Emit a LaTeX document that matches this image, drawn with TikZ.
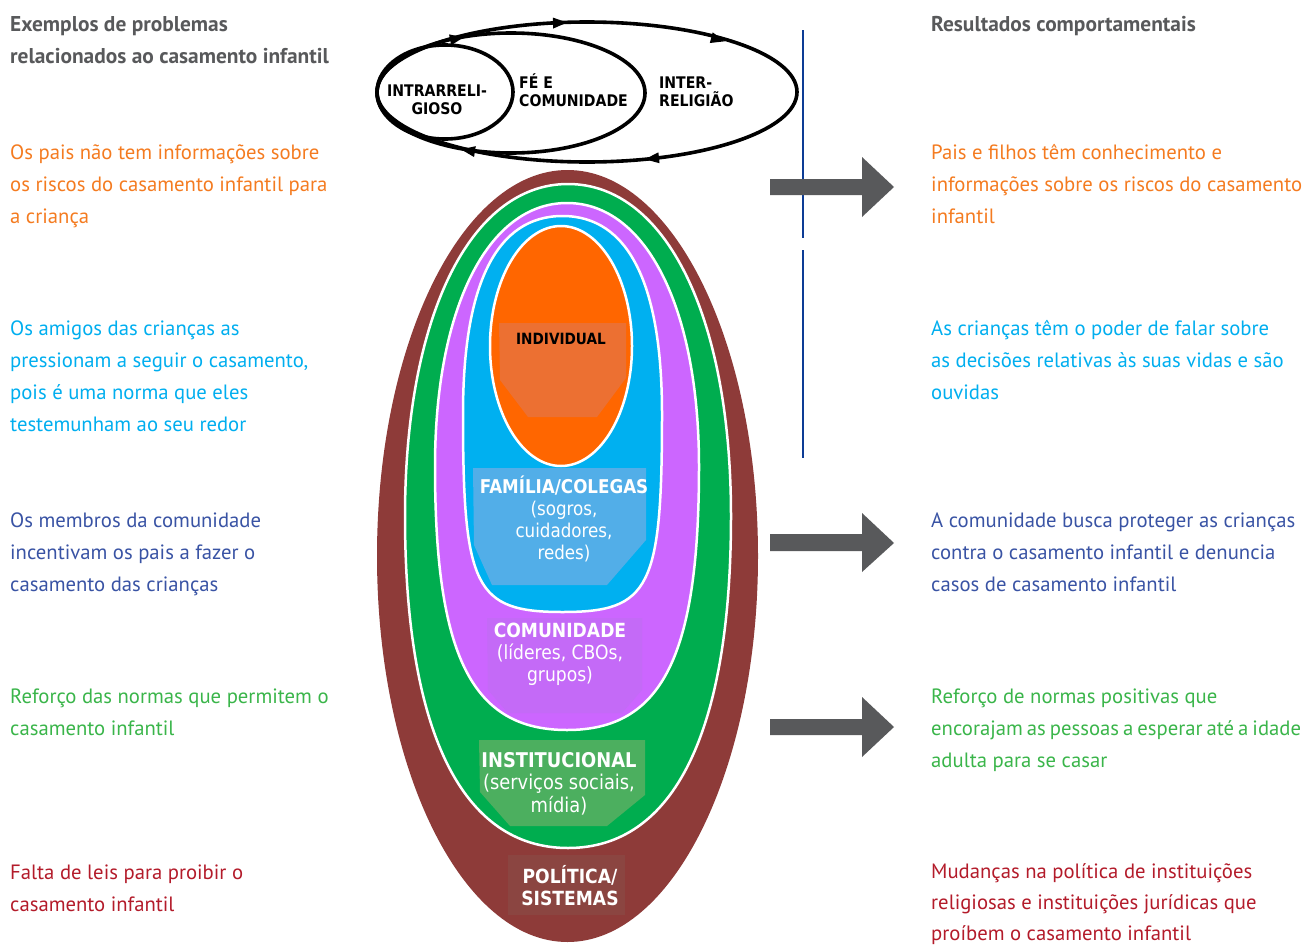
\documentclass[tikz,border=0pt]{standalone}
\usepackage{fontspec}
\setmainfont{PT Sans}
\newfontfamily\labfont[FakeStretch=0.88]{DejaVu Sans}
\usetikzlibrary{shapes.geometric}

\definecolor{polred}{HTML}{8E3B39}
\definecolor{insgreen}{HTML}{00AD4F}
\definecolor{compurple}{HTML}{CC66FF}
\definecolor{famblue}{HTML}{00B0F0}
\definecolor{indorange}{HTML}{FF6600}
\definecolor{indpatch}{HTML}{EC7032}
\definecolor{fampatch}{HTML}{52AEE8}
\definecolor{compatch}{HTML}{C46AF7}
\definecolor{inspatch}{HTML}{4CAF5F}
\definecolor{polpatch}{HTML}{8B4541}
\definecolor{arrowgray}{HTML}{58595B}
\definecolor{rulenavy}{HTML}{0D3C95}
\definecolor{headgray}{HTML}{58595B}
\definecolor{txorange}{HTML}{F47B20}
\definecolor{txcyan}{HTML}{00AEEF}
\definecolor{txblue}{HTML}{3953A4}
\definecolor{txgreen}{HTML}{3AB54A}
\definecolor{txred}{HTML}{B31B2A}

% side columns: first line top = baseline - 16
\newcommand\sidestrut{\rule{0pt}{16pt}}
% level labels: first line top = baseline - 20
\newcommand\labstrut{\rule{0pt}{20pt}}
% faith ring labels: first line top = baseline - 17
\newcommand\ringstrut{\rule{0pt}{17pt}}

% rounded oval: #1 style, #2 cx, #3 cy, #4 half width, #5 top reach,
% #6 bottom reach, #7 top fullness, #8 bottom fullness (0.5523 = ellipse)
\newcommand\ovalshape[8]{%
  \path[#1] (#2+#4,#3)
    .. controls (#2+#4,#3+#8*#6) and (#2+#8*#4,#3+#6) .. (#2,#3+#6)
    .. controls (#2-#8*#4,#3+#6) and (#2-#4,#3+#8*#6) .. (#2-#4,#3)
    .. controls (#2-#4,#3-#7*#5) and (#2-#7*#4,#3-#5) .. (#2,#3-#5)
    .. controls (#2+#7*#4,#3-#5) and (#2+#4,#3-#7*#5) .. (#2+#4,#3) -- cycle;}

\begin{document}
\begin{tikzpicture}[x=1pt,y=-1pt,
  sidetext/.style={anchor=north west, inner sep=0pt, align=left,
    font=\fontsize{20.7}{32}\selectfont},
  headtext/.style={sidetext, text=headgray, font=\fontsize{21.4}{32}\selectfont\bfseries},
  level/.style={draw=white, line width=2.5pt, line join=round},
  levellabel/.style={anchor=north, inner sep=0pt, align=center, text=white,
    font=\labfont\fontsize{19}{22}\selectfont},
  faithring/.style={ellipse, inner sep=0pt, outer sep=0pt, draw=black, line width=3.6pt},
  ringlabel/.style={anchor=north west, inner sep=0pt, align=left,
    font=\labfont\bfseries\fontsize{16}{18}\selectfont},
  ringtip/.style={fill=black},
  blockarrow/.style={fill=arrowgray},
  divider/.style={draw=rulenavy, line width=1.5pt}
]
\path[use as bounding box] (0,0) rectangle (1312,945);

% ---------- nested levels ----------
\ovalshape{fill=polred}{567.5}{556}{190.5}{386}{386}{0.5523}{0.5523}
\ovalshape{level, fill=insgreen}{568}{516}{163}{332}{332}{0.6}{0.65}
\ovalshape{level, fill=compurple}{567}{466.5}{132}{263.5}{263.5}{0.6}{0.72}
\ovalshape{level, fill=famblue}{562.5}{414}{99.5}{198}{198}{0.66}{0.88}
\ovalshape{level, fill=indorange}{561}{346}{71}{120}{120}{0.5523}{0.5523}

% label backgrounds
\fill[indpatch] (499,323) -- (626,323) -- (626,378) -- (597,417) -- (528,417) -- (500,380) -- cycle;
\fill[fampatch] (473,468) -- (646,468) -- (646,540) -- (607,585) -- (492,585) -- (474,545) -- cycle;
\fill[compatch] (487,618) -- (642,618) -- (642,690) -- (622,713) -- (508,713) -- (488,690) -- cycle;
\fill[inspatch] (479,740) -- (645,740) -- (645,795) -- (607,826) -- (510,826) -- (480,792) -- cycle;
\fill[polpatch] (508,855) rectangle (625,915);

% level labels
\node[levellabel, text=black, font=\labfont\bfseries\fontsize{15.5}{18}\selectfont] (tindividual) at (561,324) {\labstrut INDIVIDUAL};
\node[levellabel] (tfamily) at (564,473) {\labstrut\textbf{FAMÍLIA/COLEGAS}\\(sogros,\\cuidadores,\\redes)};
\node[levellabel, font=\labfont\fontsize{19.5}{22}\selectfont] (tcommunity) at (560,617) {\labstrut\textbf{COMUNIDADE}\\(líderes, CBOs,\\grupos)};
\node[levellabel, font=\labfont\fontsize{20.3}{22.5}\selectfont] (tinstitution) at (559,747) {\labstrut\textbf{INSTITUCIONAL}\\(serviços sociais,\\mídia)};
\node[levellabel, font=\labfont\bfseries\fontsize{19.5}{22}\selectfont] (tpolicy) at (570,863) {\labstrut POLÍTICA/\\SISTEMAS};

% ---------- faith rings ----------
\node[faithring, minimum width=420pt, minimum height=140pt] (inter) at (587,92) {};
\node[faithring, minimum width=268pt, minimum height=120pt] (faith) at (511,93) {};
\node[faithring, minimum width=136pt, minimum height=94pt] (intra) at (445,92) {};

\node[ringlabel, anchor=north, align=center] (tintra) at (437,79) {\ringstrut INTRARRELI-\\GIOSO};
\node[ringlabel] (tfaith) at (519,71) {\ringstrut FÉ E\\COMUNIDADE};
\node[ringlabel] (tinter) at (659,71) {\ringstrut INTER-\\RELIGIÃO};

% clockwise arrowheads on the rings
\fill[ringtip, shift={(457,38.5)}, rotate=11] (7,0) -- (-7,5.5) -- (-7,-5.5) -- cycle;
\fill[ringtip, shift={(560,22.8)}, rotate=2] (7,0) -- (-7,5.5) -- (-7,-5.5) -- cycle;
\fill[ringtip, shift={(718,39.5)}, rotate=-15] (7,0) -- (-7,5.5) -- (-7,-5.5) -- cycle;
\fill[ringtip, shift={(652,158.5)}, rotate=186] (7,0) -- (-7,5.5) -- (-7,-5.5) -- cycle;
\fill[ringtip, shift={(468,150.5)}, rotate=171] (7,0) -- (-7,5.5) -- (-7,-5.5) -- cycle;

% ---------- divider ----------
\draw[divider] (803,30) -- (803,238);
\draw[divider] (803,250) -- (803,458);

% ---------- block arrows ----------
\fill[blockarrow] (770,179) -- (862,179) -- (862,157) -- (894,187) -- (862,217) -- (862,195) -- (770,195) -- cycle;
\fill[blockarrow] (770,534) -- (862,534) -- (862,513) -- (894,543) -- (862,572) -- (862,551) -- (770,551) -- cycle;
\fill[blockarrow] (770,719) -- (862,719) -- (862,697) -- (894,727) -- (862,757) -- (862,735) -- (770,735) -- cycle;

% ---------- left column ----------
\node[headtext] (lhead) at (10,15) {\sidestrut Exemplos de problemas\\relacionados ao casamento infantil};
\node[sidetext, text=txorange] (l1) at (10,143) {\sidestrut Os pais não tem informações sobre\\os riscos do casamento infantil para\\a criança};
\node[sidetext, text=txcyan] (l2) at (10,319) {\sidestrut Os amigos das crianças as\\pressionam a seguir o casamento,\\pois é uma norma que eles\\testemunham ao seu redor};
\node[sidetext, text=txblue] (l3) at (10,511) {\sidestrut Os membros da comunidade\\incentivam os pais a fazer o\\casamento das crianças};
\node[sidetext, text=txgreen] (l4) at (10,687) {\sidestrut Reforço das normas que permitem o\\casamento infantil};
\node[sidetext, text=txred] (l5) at (10,863) {\sidestrut Falta de leis para proibir o\\casamento infantil};

% ---------- right column ----------
\node[headtext] (rhead) at (931,15) {\sidestrut Resultados comportamentais};
\node[sidetext, text=txorange] (r1) at (931,143) {\sidestrut Pais e filhos têm conhecimento e\\informações sobre os riscos do casamento\\infantil};
\node[sidetext, text=txcyan] (r2) at (931,319) {\sidestrut As crianças têm o poder de falar sobre\\as decisões relativas às suas vidas e são\\ouvidas};
\node[sidetext, text=txblue] (r3) at (931,511) {\sidestrut A comunidade busca proteger as crianças\\contra o casamento infantil e denuncia\\casos de casamento infantil};
\node[sidetext, text=txgreen] (r4) at (931,687) {\sidestrut Reforço de normas positivas que\\\spaceskip=4pt encorajam as pessoas a esperar até a idade\\adulta para se casar};
\node[sidetext, text=txred, font=\fontsize{20.7}{31}\selectfont] (r5) at (931,862) {\sidestrut Mudanças na política de instituições\\religiosas e instituições jurídicas que\\proíbem o casamento infantil};
\end{tikzpicture}
\end{document}
